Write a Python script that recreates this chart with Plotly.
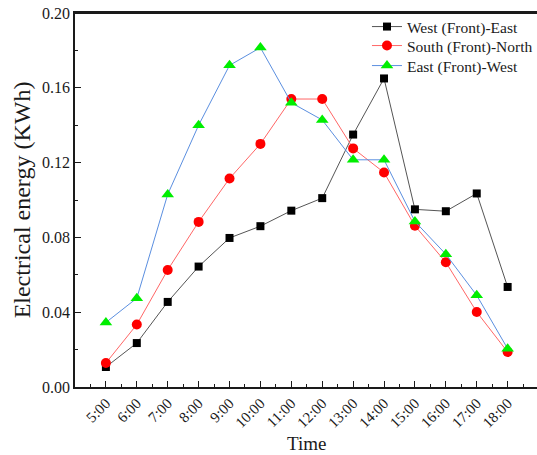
import plotly.graph_objects as go

times = ["5:00", "6:00", "7:00", "8:00", "9:00", "10:00", "11:00", "12:00",
         "13:00", "14:00", "15:00", "16:00", "17:00", "18:00"]
hours = [5, 6, 7, 8, 9, 10, 11, 12, 13, 14, 15, 16, 17, 18]

west_east = [0.0107, 0.0235, 0.0455, 0.0644, 0.0797, 0.0860, 0.0943, 0.1010,
             0.1350, 0.1650, 0.0950, 0.0940, 0.1035, 0.0535]
south_north = [0.0128, 0.0334, 0.0626, 0.0883, 0.1115, 0.1300, 0.1540, 0.1540,
               0.1276, 0.1147, 0.0862, 0.0667, 0.0401, 0.0187]
east_west = [0.0345, 0.0475, 0.1030, 0.1400, 0.1720, 0.1815, 0.1520, 0.1428,
             0.1215, 0.1215, 0.0885, 0.0710, 0.0490, 0.0205]

y_ticks = [0.00, 0.04, 0.08, 0.12, 0.16, 0.20]

serif = "Liberation Serif"
ink = "#1a1a1a"

fig = go.Figure()
fig.add_trace(go.Scatter(
    x=hours, y=west_east, name="West (Front)-East", mode="lines+markers",
    line=dict(color="#555555", width=1),
    marker=dict(symbol="square", size=8, color="#000000"), legend="legend"))
fig.add_trace(go.Scatter(
    x=hours, y=south_north, name="South (Front)-North", mode="lines+markers",
    line=dict(color="#ff6666", width=1),
    marker=dict(symbol="circle", size=10, color="#ff0000"), legend="legend2"))
fig.add_trace(go.Scatter(
    x=hours, y=east_west, name="East (Front)-West", mode="lines+markers",
    line=dict(color="#5b8fe0", width=1),
    marker=dict(symbol="triangle-up", size=11, color="#00ee00"), legend="legend3"))

def leg(yc):
    return dict(x=0.632, y=yc, xanchor="left", yanchor="middle",
                bgcolor="rgba(0,0,0,0)", font=dict(family=serif, size=15.5, color=ink),
                itemwidth=30)

fig.update_layout(
    width=537, height=455,
    margin=dict(l=75, r=0, t=13, b=68, autoexpand=False),
    plot_bgcolor="white", paper_bgcolor="white",
    font=dict(family=serif, size=14, color=ink),
    showlegend=True,
    legend=leg(0.9626), legend2=leg(0.9118), legend3=leg(0.8583),
    xaxis=dict(
        range=[4, 18.95], tickvals=hours, ticktext=times, tickangle=-45,
        automargin=False, ticklabeloverflow="allow",
        showgrid=False, zeroline=False,
        showline=True, linecolor=ink, linewidth=1.5, mirror=True,
        ticks="inside", ticklen=6, tickwidth=1.2, tickcolor=ink,
        minor=dict(dtick=0.5, tick0=4, ticks="inside", ticklen=3, tickcolor=ink, showgrid=False),
        tickfont=dict(family=serif, size=15)),
    yaxis=dict(
        range=[0, 0.2], tickvals=y_ticks, tickformat=".2f",
        automargin=False, ticklabeloverflow="allow",
        showgrid=False, zeroline=False,
        showline=True, linecolor=ink, linewidth=1.5,
        ticks="inside", ticklen=6, tickwidth=1.2, tickcolor=ink,
        minor=dict(dtick=0.02, tick0=0, ticks="inside", ticklen=3, tickcolor=ink, showgrid=False),
        tickfont=dict(family=serif, size=16),
        title=dict(text="Electrical energy (KWh)", font=dict(family=serif, size=24), standoff=5)),
    shapes=[dict(type="line", xref="paper", yref="paper", x0=0, x1=1, y0=1, y1=1,
                 line=dict(color=ink, width=2))],
    annotations=[dict(text="Time", xref="paper", yref="paper", x=0.5, y=0,
                      yshift=-56, xanchor="center", yanchor="middle", showarrow=False,
                      font=dict(family=serif, size=19, color=ink))],
)

fig.write_html("out.html", config={"displayModeBar": False},
               post_script="document.body.style.margin='0px';")
